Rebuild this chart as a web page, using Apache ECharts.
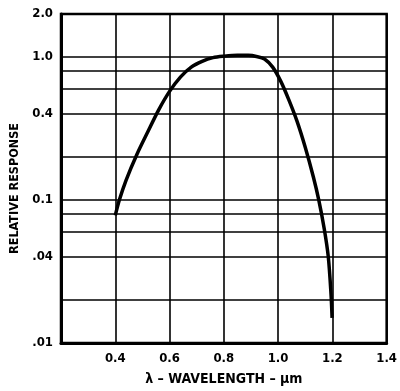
<!DOCTYPE html>
<html>
<head>
<meta charset="utf-8">
<script src="https://cdn.jsdelivr.net/npm/echarts@6/dist/echarts.min.js"></script>
<style>
html,body{margin:0;padding:0;background:#fff;}
#c{width:400px;height:391px;}
</style>
</head>
<body>
<div id="c"></div>
<script>
// Wavelength (µm) and relative response
const wavelength = [0.40, 0.415, 0.44, 0.48, 0.52, 0.56, 0.60, 0.64, 0.68, 0.72, 0.76, 0.80, 0.85, 0.89, 0.92, 0.95, 0.98, 1.01, 1.04, 1.07, 1.10, 1.13, 1.15, 1.17, 1.185, 1.195, 1.199];
const response   = [0.078, 0.10, 0.138, 0.209, 0.30, 0.427, 0.575, 0.724, 0.85, 0.933, 0.99, 1.014, 1.03, 1.028, 1.01, 0.97, 0.85, 0.676, 0.50, 0.355, 0.234, 0.145, 0.10, 0.063, 0.04, 0.022, 0.015];

// Horizontal grid lines and y tick labels
const yGridValues = [2.0, 1.0, 0.8, 0.6, 0.4, 0.2, 0.1, 0.08, 0.06, 0.04, 0.02, 0.01];
const yGridLabels = ['2.0', '1.0', '', '', '0.4', '', '0.1', '', '', '.04', '', '.01'];

// X axis ticks
const xMin = 0.2, xMax = 1.4, xStep = 0.2;
const xTickLabels = ['', '0.4', '0.6', '0.8', '1.0', '1.2', '1.4'];

const yTitle = 'RELATIVE RESPONSE';
const xTitle = 'λ – WAVELENGTH – μm';

const FONT = "'Liberation Sans Narrow', 'DejaVu Sans Condensed', 'Liberation Sans', sans-serif";

const chart = echarts.init(document.getElementById('c'), null, {renderer: 'canvas'});
const seriesData = wavelength.map((w, i) => [w, response[i]]);

chart.setOption({
  animation: false,
  backgroundColor: '#fff',
  grid: {left: 59, right: 8, top: 14, bottom: 43, show: true, borderColor: '#000', borderWidth: 2.5, backgroundColor: 'transparent'},
  xAxis: {
    type: 'value', min: xMin, max: xMax, interval: xStep,
    name: xTitle, nameLocation: 'middle', nameGap: 29,
    nameTextStyle: {fontFamily: FONT, fontWeight: 'bold', fontSize: 14, color: '#000'},
    axisLine: {show: true, lineStyle: {color: '#000', width: 3}},
    axisTick: {show: false},
    splitLine: {show: true, lineStyle: {color: '#000', width: 1.6}},
    axisLabel: {
      color: '#000', fontFamily: FONT, fontWeight: 'bold', fontSize: 13, margin: 9,
      formatter: v => xTickLabels[Math.round((v - xMin) / xStep)] || ''
    }
  },
  yAxis: {
    type: 'log', logBase: 10, min: 0.01, max: 2.0,
    name: yTitle, nameLocation: 'middle', nameGap: 40, nameRotate: 90,
    nameTextStyle: {fontFamily: FONT, fontWeight: 'bold', fontSize: 12.5, color: '#000', padding: [0, 20, 0, 0]},
    axisLine: {show: true, lineStyle: {color: '#000', width: 3}},
    axisTick: {show: false},
    axisLabel: {show: false},
    splitLine: {show: false}
  },
  series: [{
    type: 'line',
    data: seriesData,
    smooth: 0.3,
    showSymbol: false,
    symbol: 'none',
    lineStyle: {color: '#000', width: 3.5},
    z: 5,
    markLine: {
      silent: true,
      symbol: ['none', 'none'],
      animation: false,
      lineStyle: {color: '#000', width: 1.6, type: 'solid'},
      data: yGridValues.map((v, i) => ({
        yAxis: v,
        label: {
          show: yGridLabels[i] !== '',
          position: 'start',
          formatter: yGridLabels[i],
          color: '#000', fontFamily: FONT, fontWeight: 'bold', fontSize: 13, distance: 8
        }
      }))
    }
  }]
});
</script>
</body>
</html>
